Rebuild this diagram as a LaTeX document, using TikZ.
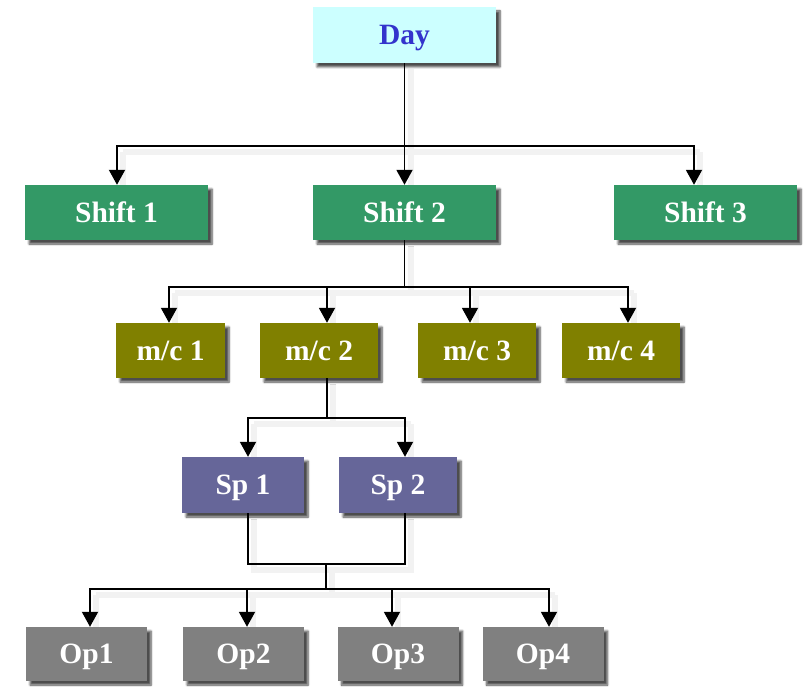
\documentclass[tikz,border=0pt]{standalone}
\usepackage{fontspec}
\setmainfont{Liberation Serif}
\usetikzlibrary{arrows.meta,shadows.blur,backgrounds}
\definecolor{dayfill}{HTML}{CCFFFF}
\definecolor{daytext}{HTML}{3333CC}
\definecolor{shiftgreen}{HTML}{339966}
\definecolor{machine}{HTML}{808000}
\definecolor{spfill}{HTML}{666699}
\definecolor{opfill}{HTML}{808080}

\begin{document}
\begin{tikzpicture}[x=1pt,y=-1pt,
  box/.style={rectangle, inner sep=0pt, text=white,
    font=\fontsize{29.5}{32}\selectfont\bfseries,
    text height=19.5pt, text depth=0pt,
    blur shadow={shadow xshift=4pt, shadow yshift=-4pt,
      shadow blur steps=6, shadow blur extra rounding=0pt,
      shadow opacity=70, shadow blur radius=2pt}},
  daybox/.style={box, fill=dayfill, text=daytext, minimum width=183pt, minimum height=56pt},
  shiftbox/.style={box, fill=shiftgreen, minimum width=183pt, minimum height=55pt},
  mcbox/.style={box, fill=machine, minimum height=55pt},
  spbox/.style={box, fill=spfill, minimum height=56pt},
  opbox/.style={box, fill=opfill, minimum width=121pt, minimum height=54pt},
  wire/.style={line width=1.9pt, line cap=rect, line join=miter,
    preaction={draw, black!5, line width=6pt, -,
      transform canvas={xshift=6pt, yshift=-6pt}}},
  arr/.style={wire, line cap=butt, -{Triangle[length=15pt,width=16pt]}}]

\useasboundingbox (0,0) rectangle (805,687);

% boxes
\node[daybox]   (day) at (404.5,35)    {Day};
\node[shiftbox] (s1)  at (116.5,212.5) {Shift 1};
\node[shiftbox] (s2)  at (404.5,212.5) {Shift 2};
\node[shiftbox] (s3)  at (705.5,212.5) {Shift 3};
\node[mcbox, minimum width=109pt] (m1) at (170.5,350.5) {m/c 1};
\node[mcbox, minimum width=118pt] (m2) at (319,350.5)   {m/c 2};
\node[mcbox, minimum width=118pt] (m3) at (477,350.5)   {m/c 3};
\node[mcbox, minimum width=118pt] (m4) at (621,350.5)   {m/c 4};
\node[spbox, minimum width=122pt] (p1) at (243,485) {Sp 1};
\node[spbox, minimum width=118pt] (p2) at (398,485) {Sp 2};
\node[opbox] (o1) at (86.5,654)  {Op1};
\node[opbox] (o2) at (243.5,654) {Op2};
\node[opbox] (o3) at (398,654)   {Op3};
\node[opbox] (o4) at (543,654)   {Op4};

% bus taps: where each arrow leaves its horizontal bus
\coordinate (a1) at (117,146);
\coordinate (a2) at (404.5,146);
\coordinate (a3) at (694,146);
\coordinate (c0) at (404.5,287);
\coordinate (c1) at (169,287);
\coordinate (c2) at (327,287);
\coordinate (c3) at (470,287);
\coordinate (c4) at (628,287);
\coordinate (d0) at (327,418);
\coordinate (d1) at (248,418);
\coordinate (d2) at (405,418);
\coordinate (j1) at (248,564);
\coordinate (j0) at (326,564);
\coordinate (j2) at (405,564);
\coordinate (e0) at (326,589);
\coordinate (e1) at (90,589);
\coordinate (e2) at (247,589);
\coordinate (e3) at (392,589);
\coordinate (e4) at (549,589);

\begin{scope}[on background layer]
% Day -> shifts
\draw[wire] (day.south) -- (a2);
\draw[wire] (a1) -- (a3);
\foreach \t/\b in {a1/s1, a2/s2, a3/s3}
  \draw[arr] (\t) -- (\t |- \b.north);

% Shift 2 -> machines
\draw[wire] (s2.south) -- (c0);
\draw[wire] (c1) -- (c4);
\foreach \t/\b in {c1/m1, c2/m2, c3/m3, c4/m4}
  \draw[arr] (\t) -- (\t |- \b.north);

% m/c 2 -> spindles
\draw[wire] (d0 |- m2.south) -- (d0);
\draw[wire] (d1) -- (d2);
\foreach \t/\b in {d1/p1, d2/p2}
  \draw[arr] (\t) -- (\t |- \b.north);

% spindles -> operators
\draw[wire] (j1 |- p1.south) -- (j1) -- (j2) -- (j2 |- p2.south);
\draw[wire] (j0) -- (e0);
\draw[wire] (e1) -- (e4);
\foreach \t/\b in {e1/o1, e2/o2, e3/o3, e4/o4}
  \draw[arr] (\t) -- (\t |- \b.north);
\end{scope}
\end{tikzpicture}
\end{document}
